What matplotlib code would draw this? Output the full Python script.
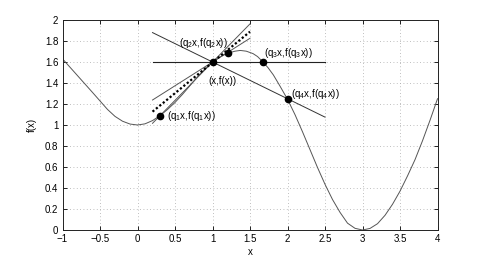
import matplotlib
matplotlib.use("Agg")
import matplotlib.pyplot as plt
from matplotlib.ticker import FuncFormatter, MultipleLocator

plt.rcParams['font.family'] = ['Liberation Sans', 'DejaVu Sans']
plt.rcParams['mathtext.default'] = 'regular'

# Curve samples
curve_x = [-1.0, -0.9, -0.8, -0.7, -0.6, -0.5, -0.4, -0.3, -0.2, -0.1, 0.0, 0.1, 0.2, 0.3, 0.4,
           0.5, 0.6, 0.7, 0.8, 0.9, 1.0, 1.1, 1.2, 1.3, 1.37, 1.45, 1.54, 1.6, 1.669, 1.74, 1.811,
           1.9, 2.0, 2.1, 2.2, 2.3, 2.4, 2.5, 2.6, 2.7, 2.8, 2.9, 3.0, 3.1, 3.2, 3.3, 3.4, 3.5,
           3.6, 3.7, 3.8, 3.9, 4.0]
curve_y = [1.63, 1.55, 1.47, 1.39, 1.31, 1.229, 1.148, 1.082, 1.036, 1.009, 1.0, 1.011, 1.042,
           1.089, 1.148, 1.215, 1.292, 1.375, 1.46, 1.535, 1.6, 1.648, 1.683, 1.703, 1.71, 1.703,
           1.68, 1.652, 1.603, 1.546, 1.477, 1.37, 1.245, 1.098, 0.935, 0.765, 0.595, 0.435, 0.29,
           0.168, 0.065, 0.016, 0.0, 0.015, 0.06, 0.14, 0.245, 0.37, 0.515, 0.67, 0.85, 1.045, 1.25]

# Points
px = [1.0, 0.3, 1.2, 1.669, 2.0]
py = [1.6, 1.089, 1.683, 1.6, 1.245]

# Line segments (start/end)
sec1_x = [0.2, 1.5]; sec1_y = [1.016, 1.963]
sec2_x = [0.2, 1.5]; sec2_y = [1.238, 1.826]
tan_x = [0.2, 1.5]; tan_y = [1.127, 1.889]
sec3_x = [0.2, 2.5]; sec3_y = [1.6, 1.6]
sec4_x = [0.2, 2.5]; sec4_y = [1.88, 1.075]

labels = ['(x,f(x))', '(q$_1$x,f(q$_1$x))', '(q$_2$x,f(q$_2$x))',
          '(q$_3$x,f(q$_3$x))', '(q$_4$x,f(q$_4$x))']
label_x = [0.944, 0.389, 0.557, 1.687, 2.043]
label_y = [1.422, 1.089, 1.784, 1.683, 1.295]

fig = plt.figure(figsize=(4.85, 2.6), dpi=100)
ax = fig.add_axes([0.1289, 0.1154, 0.7732, 0.8077])

ax.plot(curve_x, curve_y, color='#555555', lw=0.7)
ax.plot(sec1_x, sec1_y, color='#555555', lw=0.7)
ax.plot(sec2_x, sec2_y, color='#555555', lw=0.7)
ax.plot(tan_x, tan_y, color='black', lw=1.6, ls=(0, (1, 1)))
ax.plot(sec3_x, sec3_y, color='#222222', lw=0.8)
ax.plot(sec4_x, sec4_y, color='#333333', lw=0.7)
ax.plot(px, py, 'o', color='black', ms=4.5)

for t, lx, ly in zip(labels, label_x, label_y):
    ax.text(lx, ly, t, fontsize=7, ha='left', va='center', color='black')

ax.set_xlim(-1, 4)
ax.set_ylim(0, 2)
ax.xaxis.set_major_locator(MultipleLocator(0.5))
ax.yaxis.set_major_locator(MultipleLocator(0.2))
fmt = FuncFormatter(lambda v, p: ('%g' % round(v, 6)).replace('-', '\u2212'))
ax.xaxis.set_major_formatter(fmt)
ax.yaxis.set_major_formatter(fmt)
ax.tick_params(direction='in', length=3, width=0.6, labelsize=7, top=True, right=True, pad=3)
ax.grid(True, ls=(0, (1, 3)), color='#aaaaaa', lw=0.6)
for s in ax.spines.values():
    s.set_linewidth(0.7)
    s.set_color('#222222')
ax.set_xlabel('x', fontsize=7, labelpad=2)
ax.set_ylabel('f(x)', fontsize=7, labelpad=6)

fig.savefig('out.png', dpi=100)
